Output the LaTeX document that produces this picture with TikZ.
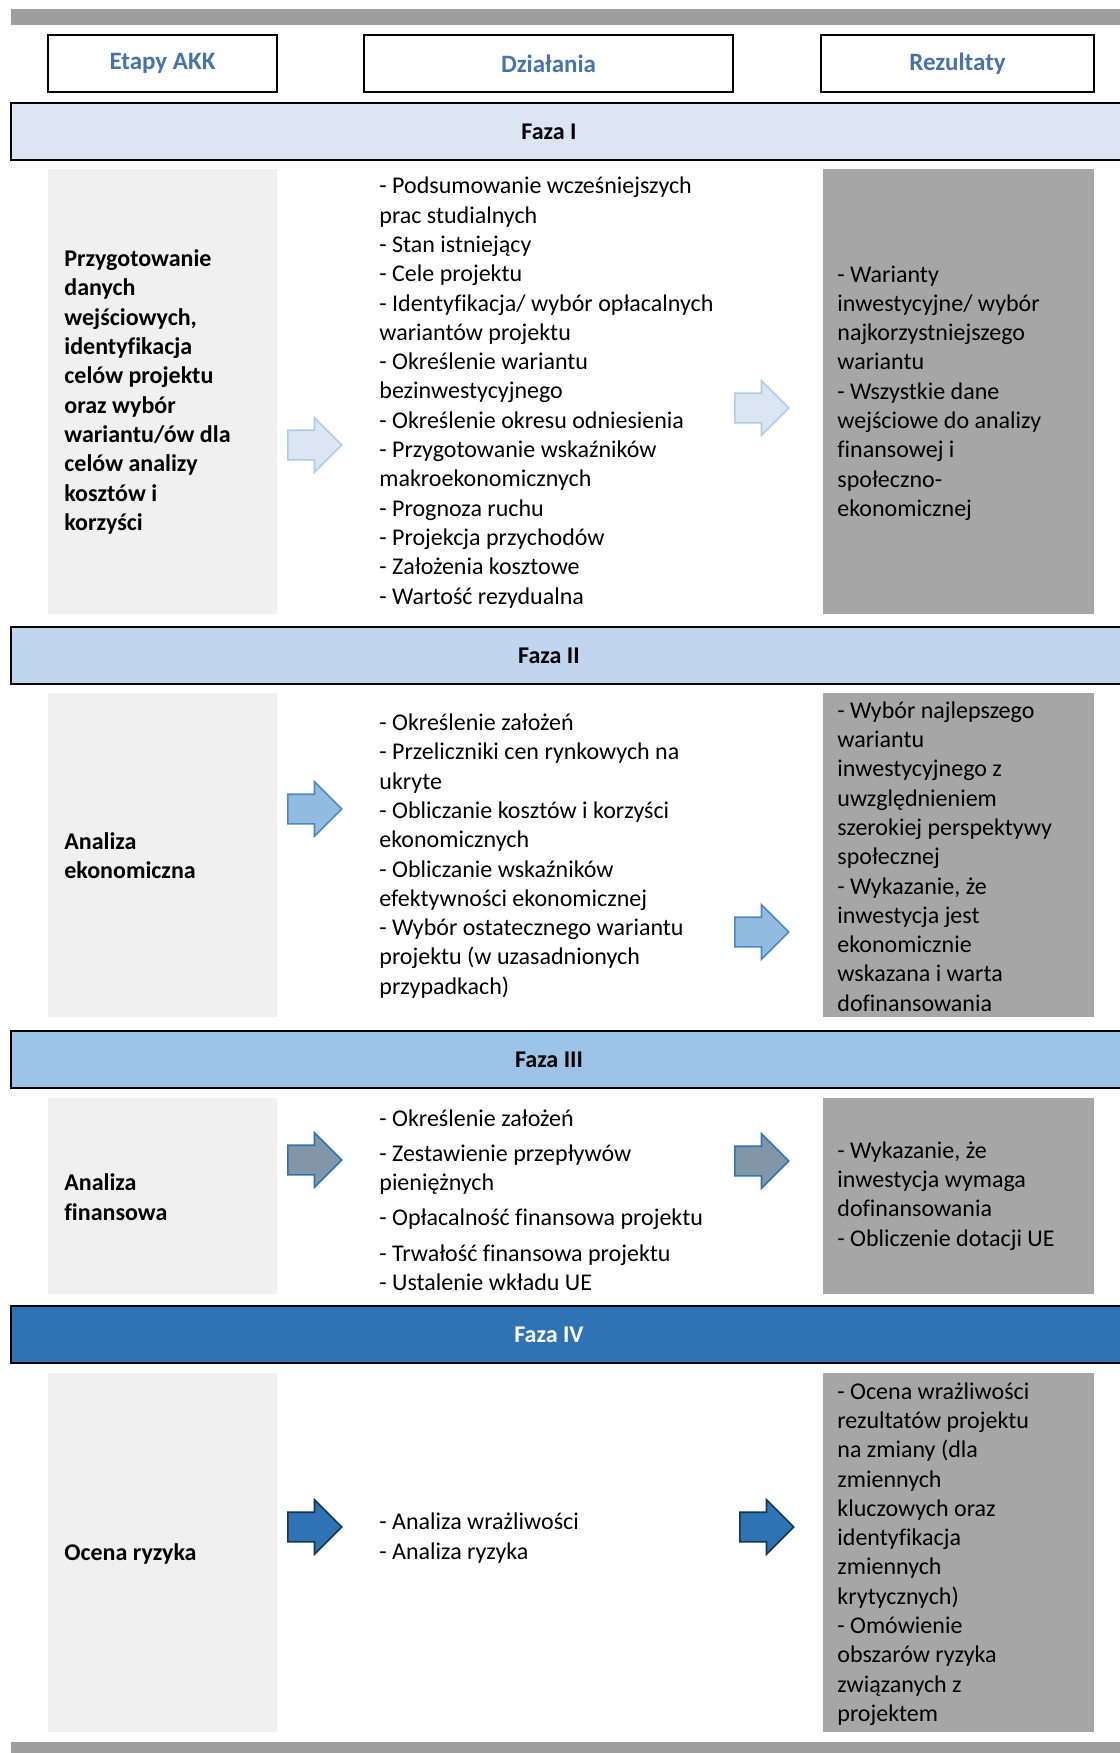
\documentclass[tikz,border=0pt]{standalone}
\usepackage{fontspec}
\setmainfont{Carlito}[Ligatures=NoCommon]
\usetikzlibrary{shapes.arrows}

\definecolor{barGray}{HTML}{9E9E9E}
\definecolor{headBlue}{HTML}{4674A8}
\definecolor{fazaI}{HTML}{DCE6F2}
\definecolor{fazaII}{HTML}{C0D6EE}
\definecolor{fazaIII}{HTML}{9DC3E6}
\definecolor{fazaIV}{HTML}{2E74B5}
\definecolor{cellLight}{HTML}{F0F0F0}
\definecolor{cellDark}{HTML}{A6A6A6}

\begin{document}
\begin{tikzpicture}[x=0.5pt, y=-0.5pt,
  txt/.style={inner sep=0pt, align=left, anchor=west,
    font=\fontsize{12pt}{14.65pt}\selectfont},
  stagetxt/.style={txt, font=\fontsize{12pt}{14.65pt}\selectfont\bfseries},
  headtxt/.style={inner sep=0pt, text=headBlue,
    font=\fontsize{12.5pt}{15pt}\selectfont\bfseries},
  bandtxt/.style={inner sep=0pt, font=\fontsize{12pt}{15pt}\selectfont\bfseries},
  blockarrow/.style={single arrow, draw, line width=0.8pt, minimum height=27pt,
    minimum width=26.5pt, inner xsep=0pt, inner ysep=7pt, text height=0pt,
    text depth=0pt, single arrow head extend=6.25pt, single arrow head indent=0pt,
    anchor=tail},
  arrowI/.style={blockarrow, fill=fazaI, draw=fazaIII!85!white},
  arrowII/.style={blockarrow, fill=fazaIII!90!fazaIV, draw=fazaIV!85!white},
  arrowIII/.style={blockarrow, fill=fazaIV!35!gray!80!white, draw=fazaIV},
  arrowIV/.style={blockarrow, fill=fazaIV, draw=fazaIV!45!black}]

\useasboundingbox (0,0) rectangle (1120,1753);
\clip (0,0) rectangle (1120,1753);

% Top and bottom bars
\fill[barGray] (11,9) rectangle (1120,25);
\fill[barGray] (11,1742) rectangle (1120,1753);

% Column heads
\draw[line width=1.25pt] (48,35) rectangle (277,92);
\draw[line width=1.25pt] (364,35) rectangle (733,92);
\draw[line width=1.25pt] (821,35) rectangle (1094,92);
\node[headtxt] (etapy) at (162.5,63.5) {Etapy AKK};
\node[headtxt] (dzialania) at (548.5,63.5) {Działania};
\node[headtxt] (rezultaty) at (957.5,63.5) {Rezultaty};

% Phase bands
\foreach \c/\top in {fazaI/103, fazaII/627, fazaIII/1031, fazaIV/1306}{
  \fill[\c] (11,\top) rectangle (1130,\top+57);
  \draw[line width=1.25pt] (1130,\top) -- (11,\top) -- (11,\top+57) -- (1130,\top+57);
}
\node[bandtxt] (fazaItxt) at (549,131.5) {Faza I};
\node[bandtxt] (fazaIItxt) at (549,655.5) {Faza II};
\node[bandtxt] (fazaIIItxt) at (549,1059.5) {Faza III};
\node[bandtxt, text=white] (fazaIVtxt) at (549,1334.5) {Faza IV};

% Cell backgrounds
\foreach \top/\bot in {169/614, 693/1017, 1098/1294, 1373/1732}{
  \fill[cellLight] (48,\top) rectangle (277,\bot);
  \fill[cellDark] (823,\top) rectangle (1094,\bot);
}

% Phase I
\node[stagetxt] (stageI) at (64,392) {Przygotowanie\\danych\\wejściowych,\\identyfikacja\\celów projektu\\oraz wybór\\wariantu/ów dla\\celów analizy\\kosztów i\\korzyści};
\node[txt] (actI) at (379,392.5) {- Podsumowanie wcześniejszych\\prac studialnych\\- Stan istniejący\\- Cele projektu\\- Identyfikacja/ wybór opłacalnych\\wariantów projektu\\- Określenie wariantu\\bezinwestycyjnego\\- Określenie okresu odniesienia\\- Przygotowanie wskaźników\\makroekonomicznych\\- Prognoza ruchu\\- Projekcja przychodów\\- Założenia kosztowe\\- Wartość rezydualna};
\node[txt] (resI) at (837,393) {- Warianty\\inwestycyjne/ wybór\\najkorzystniejszego\\wariantu\\- Wszystkie dane\\wejściowe do analizy\\finansowej i\\społeczno-\\ekonomicznej};
\node[arrowI] (arrIa) at (287,445) {};
\node[arrowI] (arrIb) at (734,408) {};

% Phase II
\node[stagetxt] (stageII) at (64,856) {Analiza\\ekonomiczna};
\node[txt] (actII) at (379,856) {- Określenie założeń\\- Przeliczniki cen rynkowych na\\ukryte\\- Obliczanie kosztów i korzyści\\ekonomicznych\\- Obliczanie wskaźników\\efektywności ekonomicznej\\- Wybór ostatecznego wariantu\\projektu (w uzasadnionych\\przypadkach)};
\node[txt] (resII) at (837,856.5) {- Wybór najlepszego\\wariantu\\inwestycyjnego z\\uwzględnieniem\\szerokiej perspektywy\\społecznej\\- Wykazanie, że\\inwestycja jest\\ekonomicznie\\wskazana i warta\\dofinansowania};
\node[arrowII] (arrIIa) at (287,809) {};
\node[arrowII] (arrIIb) at (734,932) {};

% Phase III
\node[stagetxt] (stageIII) at (64,1197) {Analiza\\finansowa};
\node[txt] (actIII) at (379,1200) {- Określenie założeń\\[3pt]- Zestawienie przepływów\\pieniężnych\\[3pt]- Opłacalność finansowa projektu\\[3pt]- Trwałość finansowa projektu\\- Ustalenie wkładu UE};
\node[txt] (resIII) at (837,1196) {- Wykazanie, że\\inwestycja wymaga\\dofinansowania\\- Obliczenie dotacji UE};
\node[arrowIII] (arrIIIa) at (287,1160) {};
\node[arrowIII] (arrIIIb) at (734,1161) {};

% Phase IV
\node[stagetxt] (stageIV) at (64,1554) {Ocena ryzyka};
\node[txt] (actIV) at (379,1538) {- Analiza wrażliwości\\- Analiza ryzyka};
\node[txt] (resIV) at (837,1554) {- Ocena wrażliwości\\rezultatów projektu\\na zmiany (dla\\zmiennych\\kluczowych oraz\\identyfikacja\\zmiennych\\krytycznych)\\- Omówienie\\obszarów ryzyka\\związanych z\\projektem};
\node[arrowIV] (arrIVa) at (287,1527) {};
\node[arrowIV] (arrIVb) at (739,1527) {};

\end{tikzpicture}
\end{document}
